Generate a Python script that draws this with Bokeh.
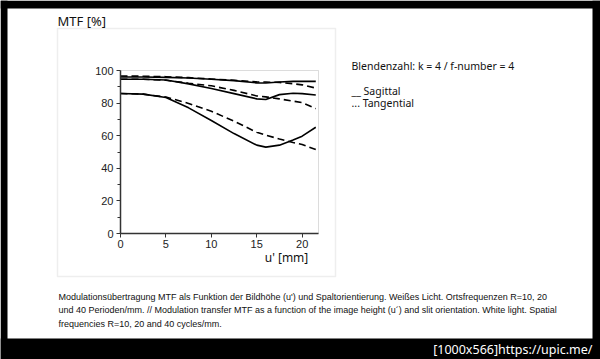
from bokeh.plotting import figure
from bokeh.models import Label, BoxAnnotation, FixedTicker, Range1d, LinearAxis
from bokeh.embed import file_html
from bokeh.resources import INLINE

# ---- data ----
x_mm = [0, 2.5, 5, 7.5, 10, 12.5, 15, 16, 17.5, 19, 20, 21.5]
sag_10 = [96.0, 96.0, 95.8, 95.4, 94.6, 93.8, 92.4, 92.3, 92.9, 93.3, 93.3, 93.3]
tan_10 = [96.6, 96.5, 96.2, 95.6, 94.8, 94.0, 93.0, 92.9, 92.7, 91.9, 91.2, 89.2]
sag_20 = [94.6, 94.6, 94.2, 91.8, 89.0, 85.8, 82.6, 82.2, 85.2, 86.0, 85.8, 85.0]
tan_20 = [94.6, 94.6, 94.0, 92.2, 90.6, 87.8, 84.4, 83.8, 82.6, 81.2, 80.3, 76.6]
sag_40 = [85.9, 85.5, 83.4, 77.1, 69.3, 61.3, 54.2, 53.0, 54.2, 57.3, 59.7, 65.2]
tan_40 = [85.9, 85.5, 83.7, 79.8, 75.0, 68.9, 62.1, 60.3, 58.0, 55.8, 54.6, 51.5]
x_ticks = [0, 5, 10, 15, 20]
y_ticks = [0, 20, 40, 60, 80, 100]
y_minor = [10, 30, 50, 70, 90]
x_min, x_max = 0, 21.8
y_min, y_max = 0, 100

title_text = "MTF [%]"
xlabel_text = "u' [mm]"
info_lines = ["Blendenzahl: k = 4 / f-number = 4", "__ Sagittal", "... Tangential"]
caption_lines = [
    "Modulationsübertragung MTF als Funktion  der Bildhöhe (u') und Spaltorientierung. Weißes Licht. Ortsfrequenzen R=10, 20",
    "und 40 Perioden/mm. // Modulation transfer MTF as a function of the image height (u´) and slit orientation.  White light. Spatial",
    "frequencies R=10, 20 and 40 cycles/mm.",
]
footer_text = "[1000x566]https://upic.me/"

# ---- layout geometry (canvas px, y down) ----
W, H = 600, 359
FL, FR, FT, FB = 120, 318, 70, 233   # where the chart's data area sits on the page

kx = (FR - FL) / (x_max - x_min)
ky = (FB - FT) / (y_max - y_min)
x_range = Range1d(x_min - FL / kx, x_max + (W - FR) / kx)
y_range = Range1d(y_min - (H - FB) / ky, y_max + FT / ky)

p = figure(width=W, height=H, output_backend="svg", toolbar_location=None, title=None,
           x_range=x_range, y_range=y_range, x_axis_type=None, y_axis_type=None,
           min_border_left=0, min_border_right=0, min_border_top=0, min_border_bottom=0)
p.background_fill_color = "white"
p.border_fill_color = "white"
p.outline_line_color = None

# axes fixed at the chart's data origin
xaxis = LinearAxis(fixed_location=y_min, bounds=(x_min, x_max), ticker=FixedTicker(ticks=x_ticks))
yaxis = LinearAxis(fixed_location=x_min, bounds=(y_min, y_max),
                   ticker=FixedTicker(ticks=y_ticks, minor_ticks=y_minor))
for ax in (xaxis, yaxis):
    ax.axis_line_color = "#333333"
    ax.axis_line_width = 1.5
    ax.major_tick_line_color = "#333333"
    ax.minor_tick_line_color = "#333333"
    ax.major_tick_in = 0
    ax.major_tick_out = 4
    ax.minor_tick_in = 0
    ax.minor_tick_out = 3
    ax.major_label_text_font = "Liberation Sans"
    ax.major_label_text_font_size = "11px"
    ax.major_label_text_color = "#222222"
xaxis.minor_tick_line_color = None
xaxis.major_label_standoff = 2
yaxis.major_label_standoff = 3
p.add_layout(xaxis, "below")
p.add_layout(yaxis, "left")

p.xgrid.ticker = FixedTicker(ticks=x_ticks)
p.ygrid.ticker = FixedTicker(ticks=y_ticks)
p.xgrid.bounds = (y_min, y_max)
p.ygrid.bounds = (x_min, x_max)
p.grid.grid_line_color = "#d4d4d4"
p.grid.grid_line_width = 1

# chart outline (top / right edges of the data area)
p.add_layout(BoxAnnotation(left=x_min, right=x_max, bottom=y_min, top=y_max,
                           fill_color=None, line_color="#8c8c8c", line_width=1, level="underlay"))

# curves
solid = dict(line_color="black", line_width=1.6)
dashed = dict(line_color="black", line_width=1.6, line_dash="7 4")
for ys in (sag_10, sag_20, sag_40):
    p.line(x_mm, ys, **solid)
for ys in (tan_10, tan_20, tan_40):
    p.line(x_mm, ys, **dashed)


def screen_box(l, r, t, b, **kw):
    p.add_layout(BoxAnnotation(left=l, right=r, top=H - t, bottom=H - b,
                               left_units="screen", right_units="screen",
                               top_units="screen", bottom_units="screen", **kw))


# light grey frame round the chart
screen_box(57, 335, 28, 276, fill_color=None, line_color="#c8c8c8", line_width=1.5, level="image")


def add_text(text, cx, cy, size, font, align="left", color="#111111", level="annotation"):
    p.add_layout(Label(x=cx, y=H - cy, x_units="screen", y_units="screen", text=text,
                       text_font=font, text_font_size=size, text_align=align,
                       text_baseline="middle", text_color=color, level=level))


add_text(title_text, 57, 20, "13px", "Noto Sans")
add_text(xlabel_text, 286, 257, "12px", "Noto Sans", align="center")
add_text(info_lines[0], 351, 65, "10.5px", "Noto Sans")
add_text(info_lines[1], 351, 90, "10.5px", "Noto Sans")
add_text(info_lines[2], 351, 102, "10.5px", "Noto Sans")
for i, line in enumerate(caption_lines):
    add_text(line, 58, 296 + 13.5 * i, "9px", "Liberation Sans")

# black screenshot border strips
for l, r, t, b in ((0, 7, 0, H), (0, W, 0, 8), (592, W, 0, H), (0, W, 338, H)):
    screen_box(l, r, t, b, fill_color="black", fill_alpha=1, line_color=None, level="overlay")

add_text(footer_text, 592, 349, "12.5px", "Noto Sans", align="right", color="white", level="overlay")

open("out.html", "w").write(file_html(p, INLINE))
